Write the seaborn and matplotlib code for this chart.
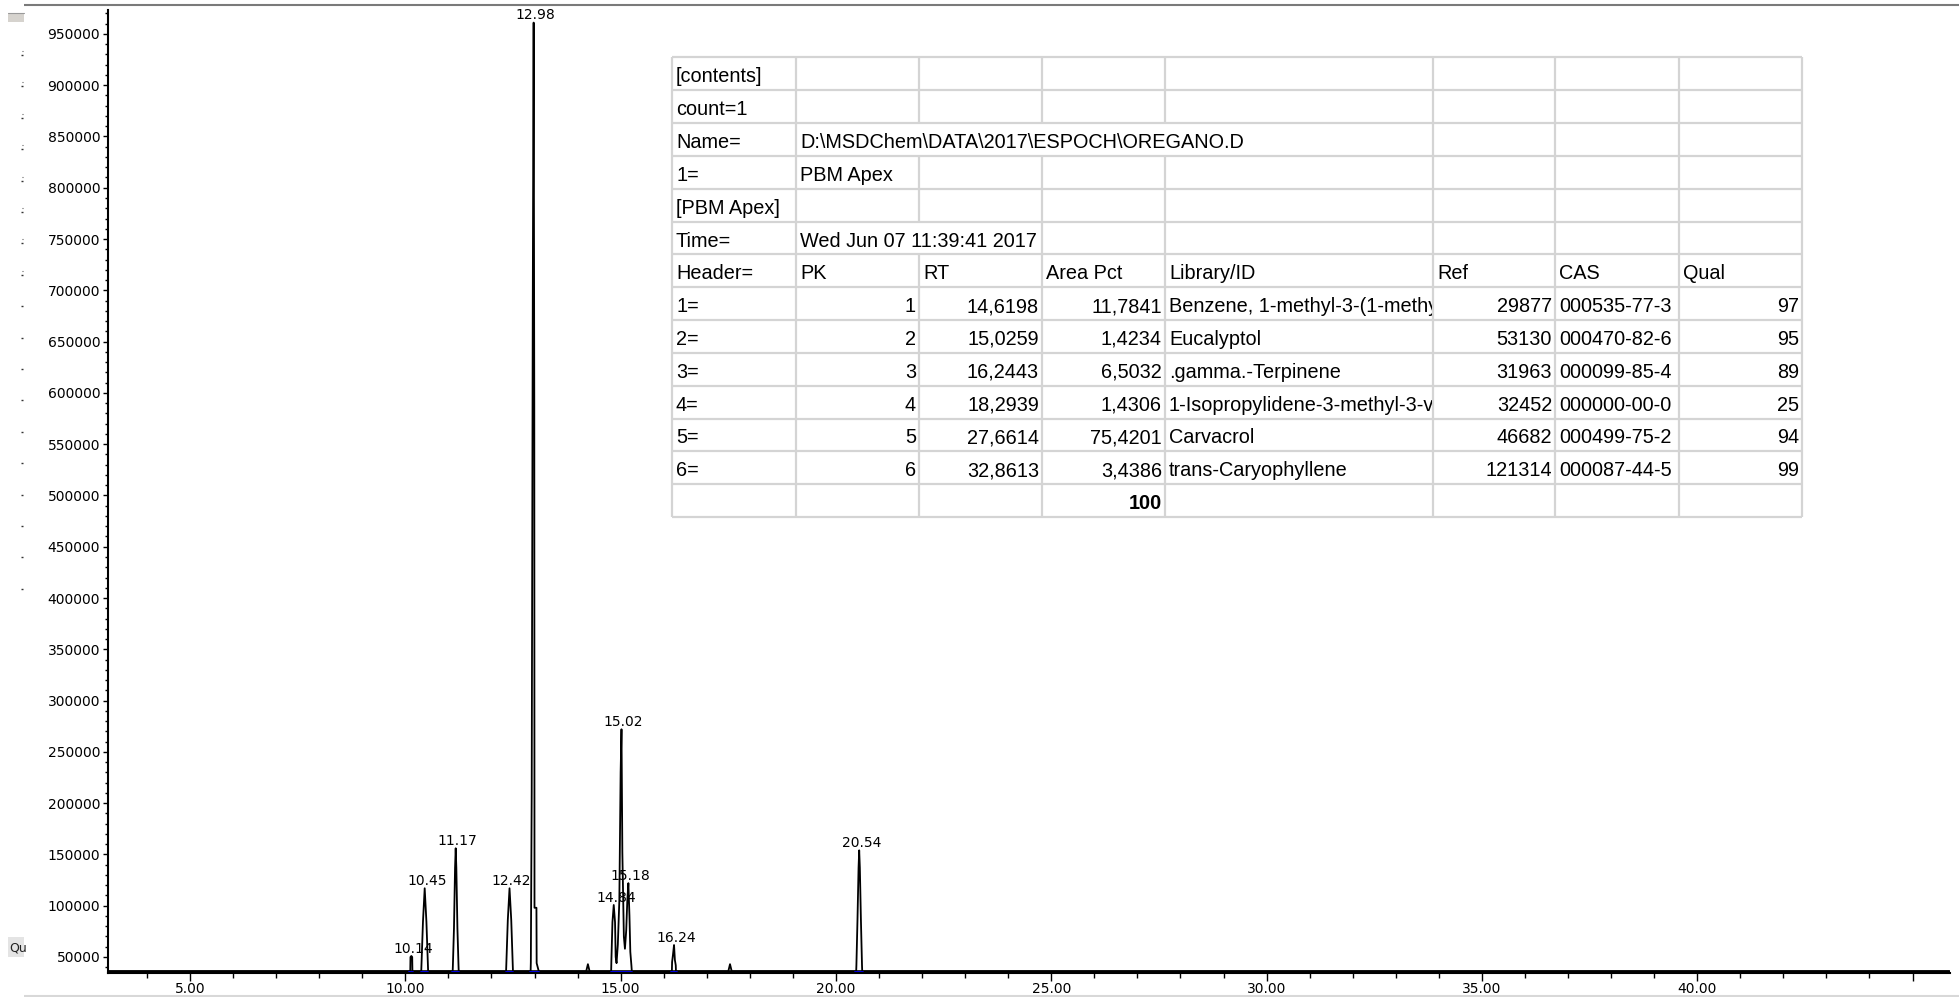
import matplotlib
matplotlib.use("Agg")
import matplotlib.pyplot as plt
import seaborn as sns
import pandas as pd
from matplotlib.patches import Rectangle

sns.set_theme(style="ticks")
plt.rcParams['font.family'] = ['DejaVu Sans']

# ---------------- data ----------------
baseline_level = 36000
run_start, run_end = 3.10, 45.85

trace_time = [
    3.10,
    10.115, 10.12, 10.14, 10.16, 10.165,
    10.37, 10.375, 10.41, 10.45, 10.49, 10.525, 10.53,
    11.10, 11.105, 11.13, 11.155, 11.17, 11.185, 11.21, 11.235, 11.24,
    12.34, 12.345, 12.38, 12.42, 12.46, 12.495, 12.50,
    12.91, 12.915, 12.935, 12.96, 12.98, 12.995, 13.00, 13.045, 13.05, 13.10,
    14.20, 14.24, 14.28,
    14.78, 14.785, 14.81, 14.84, 14.87, 14.885, 14.905, 14.935, 14.97, 15.00,
    15.02, 15.04, 15.075, 15.10, 15.13, 15.155, 15.18, 15.205, 15.225, 15.25, 15.26,
    16.19, 16.195, 16.215, 16.24, 16.26, 16.28, 16.285,
    17.50, 17.54, 17.58,
    20.47, 20.475, 20.50, 20.525, 20.54, 20.555, 20.58, 20.605, 20.61,
    45.85,
]
trace_signal = [
    36000,
    36000, 50000, 51000, 50000, 36000,
    36000, 42000, 84400, 117000, 84400, 42000, 36000,
    36000, 42000, 78000, 137000, 156000, 137000, 78000, 42000, 36000,
    36000, 42000, 86000, 117000, 86000, 42000, 36000,
    36000, 45000, 210000, 690000, 961000, 587000, 98000, 98000, 44000, 36000,
    36000, 43000, 36000,
    36000, 46000, 84000, 100700, 84000, 50000, 44000, 62000, 105000, 230000,
    272000, 152000, 70000, 58000, 76000, 105000, 122000, 90000, 55000, 42000, 36000,
    36000, 45000, 52000, 61700, 47000, 42000, 36000,
    36000, 43000, 36000,
    36000, 42000, 86000, 137000, 154000, 137000, 86000, 42000, 36000,
    36000,
]

peak_rt = [10.14, 10.45, 11.17, 12.42, 12.98, 14.84, 15.02, 15.18, 16.24, 20.54]
peak_height = [51000, 117000, 156000, 117000, 961000, 100700, 272000, 122000, 61700, 154000]

integ_start = [10.08, 10.37, 11.08, 12.34, 12.89, 14.77, 16.18, 20.45]
integ_end = [10.18, 10.52, 11.25, 12.50, 13.10, 15.27, 16.30, 20.63]

y_ticks = list(range(50000, 950001, 50000))
x_ticks = [5, 10, 15, 20, 25, 30, 35, 40, 45]
x_tick_labels = ["5.00", "10.00", "15.00", "20.00", "25.00", "30.00", "35.00", "40.00", ""]

# table contents
info_rows = [
    ["[contents]"],
    ["count=1"],
    ["Name=", "D:\\MSDChem\\DATA\\2017\\ESPOCH\\OREGANO.D"],
    ["1=", "PBM Apex"],
    ["[PBM Apex]"],
    ["Time=", "Wed Jun 07 11:39:41 2017"],
]
header_row = ["Header=", "PK", "RT", "Area Pct", "Library/ID", "Ref", "CAS", "Qual"]
pk_num = [1, 2, 3, 4, 5, 6]
pk_rt = [14.6198, 15.0259, 16.2443, 18.2939, 27.6614, 32.8613]
pk_area = [11.7841, 1.4234, 6.5032, 1.4306, 75.4201, 3.4386]
pk_library = ["Benzene, 1-methyl-3-(1-methy", "Eucalyptol", ".gamma.-Terpinene",
              "1-Isopropylidene-3-methyl-3-vi", "Carvacrol", "trans-Caryophyllene"]
pk_ref = [29877, 53130, 31963, 32452, 46682, 121314]
pk_cas = ["000535-77-3", "000470-82-6", "000099-85-4", "000000-00-0", "000499-75-2", "000087-44-5"]
pk_qual = [97, 95, 89, 25, 94, 99]
area_total = "100"

# ---------------- figure ----------------
W, H = 1959, 997
fig = plt.figure(figsize=(W / 100, H / 100), dpi=100, facecolor="white")
ax = fig.add_axes([108 / W, 1 - 973 / H, (1950 - 108) / W, (973 - 10) / H])
ax.set_facecolor("white")

df = pd.DataFrame({"time": trace_time, "signal": trace_signal})
sns.lineplot(data=df, x="time", y="signal", estimator=None, sort=False,
             color="black", lw=1.3, ax=ax)
sns.lineplot(x=[run_start, run_end], y=[baseline_level, baseline_level],
             color="black", lw=1.9, ax=ax)
for s, e in zip(integ_start, integ_end):
    sns.lineplot(x=[s, e], y=[35300, 35300], color="#0000ff", lw=1.3, ax=ax)

for rt, h in zip(peak_rt, peak_height):
    ax.annotate(f"{rt:.2f}", xy=(rt, h), xytext=(1.5, 0.3), textcoords="offset points",
                ha="center", va="bottom", fontsize=10, color="black")

ax.set_xlim(3.096, 45.87)
ax.set_ylim(34400, 973300)
ax.set_xlabel("")
ax.set_ylabel("")
ax.set_yticks(y_ticks)
ax.set_yticklabels([str(v) for v in y_ticks])
ax.set_yticks(list(range(40000, 970001, 10000)), minor=True)
ax.set_xticks(x_ticks)
ax.set_xticklabels(x_tick_labels)
ax.set_xticks(list(range(4, 46)), minor=True)
for sp in ["top", "right"]:
    ax.spines[sp].set_visible(False)
for sp in ["left", "bottom"]:
    ax.spines[sp].set_color("black")
    ax.spines[sp].set_linewidth(1.5)
ax.tick_params(axis="y", which="major", length=3.6, width=1, color="black", pad=2,
               labelsize=10, labelcolor="black", left=True, direction="out")
ax.tick_params(axis="y", which="minor", length=2.2, width=1, color="black", left=True)
ax.tick_params(axis="x", which="major", length=5.8, width=1, color="black", pad=1,
               labelsize=10, labelcolor="black", bottom=True, direction="out")
ax.tick_params(axis="x", which="minor", length=3.6, width=1, color="black", bottom=True)

# ---------------- overlay (table + window artefacts) ----------------
ov = fig.add_axes([0, 0, 1, 1], zorder=5)
ov.set_xlim(0, W)
ov.set_ylim(H, 0)
ov.axis("off")
ov.patch.set_alpha(0)

col_x = [672, 796, 919, 1042, 1165, 1433, 1555, 1679, 1802]
n_rows = 14
row_top = 57.5
row_h = (517 - 57.5) / n_rows
row_y = [row_top + i * row_h for i in range(n_rows + 1)]
grid_c = "#d4d4d4"
ov.add_patch(Rectangle((col_x[0], row_y[0]), col_x[-1] - col_x[0], row_y[-1] - row_y[0],
                       facecolor="white", edgecolor="none", zorder=1))
for y in row_y:
    ov.plot([col_x[0], col_x[-1]], [y, y], color=grid_c, lw=1.6, zorder=2,
            solid_capstyle="butt")
hidden = {(2, 2), (2, 3), (2, 4), (5, 2)}
for r in range(n_rows):
    for c, x in enumerate(col_x):
        if (r, c) in hidden:
            continue
        ov.plot([x, x], [row_y[r], row_y[r + 1]], color=grid_c, lw=1.6, zorder=2,
                solid_capstyle="butt")

tfont = dict(family=["Liberation Sans", "DejaVu Sans"], fontsize=14.3, color="black", zorder=3)


def cell(r, c, txt, align="left", bold=False, clip=False):
    yc = row_y[r] + row_h / 2 + 3
    if align == "left":
        x, ha = col_x[c] + 4, "left"
    else:
        x, ha = col_x[c + 1] - 3, "right"
    t = ov.text(x, yc, txt, ha=ha, va="center", fontweight="bold" if bold else "normal", **tfont)
    if clip:
        rect = Rectangle((col_x[c], row_y[r]), col_x[c + 1] - col_x[c] - 1, row_h,
                         transform=ov.transData)
        t.set_clip_path(rect)
        t.set_clip_on(True)
    return t


for r, row in enumerate(info_rows):
    for c, txt in enumerate(row):
        cell(r, c, txt)
for c, txt in enumerate(header_row):
    cell(6, c, txt)
for i in range(len(pk_num)):
    r = 7 + i
    cell(r, 0, f"{pk_num[i]}=")
    cell(r, 1, str(pk_num[i]), "right")
    cell(r, 2, f"{pk_rt[i]:.4f}".replace(".", ","), "right")
    cell(r, 3, f"{pk_area[i]:.4f}".replace(".", ","), "right")
    cell(r, 4, pk_library[i], clip=True)
    cell(r, 5, str(pk_ref[i]), "right")
    cell(r, 6, pk_cas[i])
    cell(r, 7, str(pk_qual[i]), "right")
cell(13, 3, area_total, "right", bold=True)

# window frame artefacts
ov.plot([24, W], [5, 5], color="#7a7a7a", lw=1.5, solid_capstyle="butt")
ov.plot([24, W], [996, 996], color="#d8d8d8", lw=1.5, solid_capstyle="butt")
ov.add_patch(Rectangle((8, 13), 16, 9, facecolor="#d6d3ce", edgecolor="none"))
ov.plot([8, 24], [13.5, 13.5], color="#9a9a9a", lw=0.8)
for k in range(18):
    y = 55 + k * 31.4
    ov.plot([21, 23], [y, y], color="#333333", lw=1.0, solid_capstyle="butt")
    if k < 8:
        ov.plot([22, 23], [y - 4, y - 4], color="#555555", lw=0.8, solid_capstyle="butt")
qbox = Rectangle((8, 937), 16, 20, facecolor="#e4e4e4", edgecolor="none", transform=ov.transData)
ov.add_patch(qbox)
qt = ov.text(9, 948, "Qu", ha="left", va="center", fontsize=9, color="#222222",
             family=["DejaVu Sans"])
qt.set_clip_path(Rectangle((8, 937), 16, 20, transform=ov.transData))

fig.savefig("out.png", dpi=100, facecolor="white")
